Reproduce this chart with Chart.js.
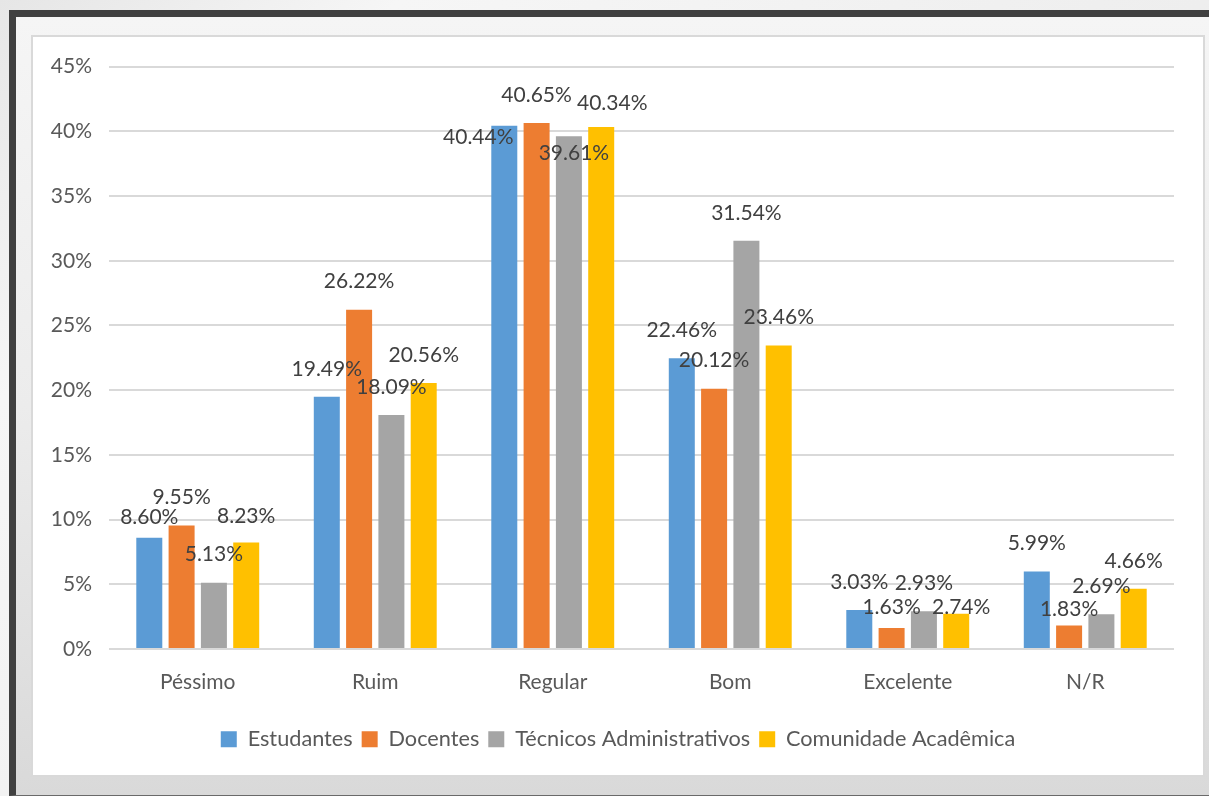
<!DOCTYPE html>
<html>
<head>
<meta charset="utf-8">
<script src="https://cdn.jsdelivr.net/npm/chart.js@4.4.1/dist/chart.umd.min.js"></script>
<style>
  html, body { margin: 0; padding: 0; }
  body {
    width: 1209px; height: 796px; overflow: hidden; position: relative;
    background: linear-gradient(135deg, #e6e6e6 0%, #f6f6f6 20%, #eeeeee 60%, #e2e2e2 100%);
    font-family: Lato, sans-serif;
  }
  #frame {
    position: absolute; left: 9px; top: 10px; width: 1200px; height: 778px;
    border-left: 7px solid #404040; border-top: 7px solid #404040; border-bottom: 1px solid #6a6a6a;
    background: linear-gradient(to bottom, #f5f5f5 0%, #ececec 50%, #d9d9d9 100%);
  }
  #box {
    position: absolute; left: 31px; top: 35px; width: 1170px; height: 738px;
    border: 2px solid #d9d9d9; background: #ffffff;
  }
  canvas { position: absolute; left: 0; top: 0; }
</style>
</head>
<body>
<div id="frame"></div>
<div id="box"><canvas id="c" width="1170" height="738"></canvas></div>
<script>
const categories = ['Péssimo', 'Ruim', 'Regular', 'Bom', 'Excelente', 'N/R'];
const seriesNames = ['Estudantes', 'Docentes', 'Técnicos Administrativos', 'Comunidade Acadêmica'];
const estudantes = [8.60, 19.49, 40.44, 22.46, 3.03, 5.99];
const docentes = [9.55, 26.22, 40.65, 20.12, 1.63, 1.83];
const tecnicos = [5.13, 18.09, 39.61, 31.54, 2.93, 2.69];
const comunidade = [8.23, 20.56, 40.34, 23.46, 2.74, 4.66];
const yTicks = [0, 5, 10, 15, 20, 25, 30, 35, 40, 45];

// label placement tweaks (pixels, relative to the default spot above each bar)
const labelDx = [
  [0, 0, -26, 0, 0, 0],
  [0, 0, 0, 0, 0, 0],
  [0, 0, 5, 0, 0, 0],
  [0, 0, 11, 0, 5, 0]
];
const labelDy = [
  [7, 0, 40, 0, 0, 0],
  [0, 0, 0, 0, 7, 12],
  [0, 0, 45, 0, 0, 0],
  [2, 0, 4, 0, 22, 0]
];

const colors = ['#5b9bd5', '#ed7d31', '#a5a5a5', '#ffc000'];
const seriesData = [estudantes, docentes, tecnicos, comunidade];

const labelPlugin = {
  id: 'valueLabels',
  afterDatasetsDraw(chart) {
    const ctx = chart.ctx;
    ctx.save();
    ctx.font = '21px Lato';
    ctx.fillStyle = '#404040';
    ctx.textAlign = 'center';
    ctx.textBaseline = 'middle';
    chart.data.datasets.forEach((ds, di) => {
      const meta = chart.getDatasetMeta(di);
      meta.data.forEach((el, i) => {
        const txt = ds.data[i].toFixed(2) + '%';
        ctx.fillText(txt, el.x + labelDx[di][i], el.y - 28 + labelDy[di][i]);
      });
    });
    ctx.restore();
  }
};

// centre the legend on the whole box rather than on the padded area
const legendShift = {
  id: 'legendShift',
  afterLayout(chart) {
    const lg = chart.legend;
    if (lg) { lg.left += 14.5; lg.right += 14.5; }
  }
};

new Chart(document.getElementById('c'), {
  type: 'bar',
  data: {
    labels: categories,
    datasets: seriesNames.map((n, i) => ({
      label: n,
      data: seriesData[i],
      backgroundColor: colors[i],
      borderWidth: 0,
      categoryPercentage: 0.728,
      barPercentage: 0.805
    }))
  },
  options: {
    responsive: false,
    animation: false,
    layout: { padding: { left: 0, right: 29, top: 29, bottom: 15 } },
    plugins: {
      tooltip: { enabled: false },
      legend: {
        position: 'bottom',
        labels: {
          boxWidth: 16, boxHeight: 16, padding: 9,
          color: '#595959',
          font: { family: 'Lato', size: 21.7 }
        }
      }
    },
    scales: {
      x: {
        grid: { display: false },
        border: { display: false },
        afterFit(scale) { scale.height += 11; },
        ticks: { color: '#595959', font: { family: 'Lato', size: 21 }, padding: 13 }
      },
      y: {
        min: 0, max: 45,
        afterBuildTicks(scale) { scale.ticks = yTicks.map(v => ({ value: v })); },
        afterFit(scale) { scale.width = 76; },
        grid: { color: '#d9d9d9', lineWidth: 2, drawTicks: false },
        border: { display: false },
        ticks: {
          color: '#595959', font: { family: 'Lato', size: 21 }, padding: 17,
          callback: v => v + '%'
        }
      }
    }
  },
  plugins: [labelPlugin, legendShift]
});
</script>
</body>
</html>
